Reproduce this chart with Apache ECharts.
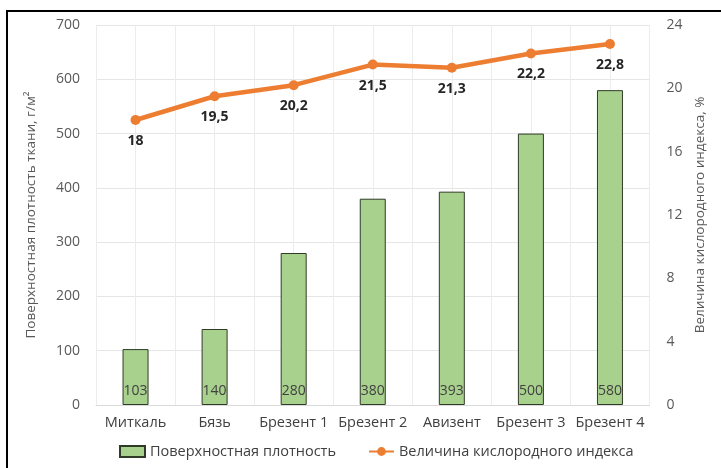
<!DOCTYPE html>
<html>
<head>
<meta charset="utf-8">
<title>Поверхностная плотность и кислородный индекс</title>
<script src="https://cdn.jsdelivr.net/npm/echarts@6/dist/echarts.min.js"></script>
<style>
  html, body { margin: 0; padding: 0; background: #ffffff; }
  #chart { width: 721px; height: 468px; }
</style>
</head>
<body>
<div id="chart"></div>
<script>
// Ткани
const categories = ['Миткаль', 'Бязь', 'Брезент 1', 'Брезент 2', 'Авизент', 'Брезент 3', 'Брезент 4'];
// Поверхностная плотность, г/м²
const density = [103, 140, 280, 380, 393, 500, 580];
// Кислородный индекс, %
const oxygenIndex = [18, 19.5, 20.2, 21.5, 21.3, 22.2, 22.8];

const FONT = '"Open Sans", "Noto Sans", sans-serif';
const chart = echarts.init(document.getElementById('chart'), null, { renderer: 'canvas' });

chart.setOption({
  backgroundColor: '#ffffff',
  animation: false,
  textStyle: { fontFamily: FONT },
  graphic: [{
    type: 'rect',
    z: 100,
    shape: { x: 7, y: 11, width: 730, height: 470 },
    style: { fill: 'none', stroke: '#000000', lineWidth: 2 }
  }],
  grid: { left: 96, right: 71.5, top: 25, bottom: 63, containLabel: false },
  legend: {
    bottom: 4,
    left: 114,
    itemGap: 32,
    itemWidth: 25,
    itemHeight: 11,
    textStyle: { fontFamily: FONT, fontSize: 14.5, color: '#404040' },
    data: [
      { name: 'Поверхностная плотность', icon: 'rect' },
      { name: 'Величина кислородного индекса' }
    ]
  },
  xAxis: [{
    type: 'category',
    data: categories,
    boundaryGap: true,
    axisLine: { show: true, lineStyle: { color: '#d9d9d9', width: 1 } },
    axisTick: { show: false },
    splitLine: { show: false },
    axisLabel: { interval: 0, fontFamily: FONT, fontSize: 14.5, color: '#404040', margin: 10 }
  }, {
    // half-category vertical grid
    type: 'value',
    min: 0,
    max: 14,
    interval: 1,
    position: 'bottom',
    axisLine: { show: false },
    axisTick: { show: false },
    axisLabel: { show: false },
    splitLine: { show: true, lineStyle: { color: '#ececec', width: 1 } }
  }],
  yAxis: [{
    type: 'value',
    min: 0,
    max: 700,
    interval: 100,
    name: 'Поверхностная плотность ткани, г/м²',
    nameLocation: 'middle',
    nameGap: 58,
    nameTextStyle: { fontFamily: FONT, fontSize: 13.5, color: '#595959' },
    axisLine: { show: false },
    axisTick: { show: false },
    axisLabel: { fontFamily: FONT, fontSize: 14, color: '#595959', margin: 16 },
    splitLine: { show: true, lineStyle: { color: '#e6e6e6', width: 1 } }
  }, {
    type: 'value',
    min: 0,
    max: 24,
    interval: 4,
    position: 'right',
    name: 'Величина кислородного индекса, %',
    nameLocation: 'middle',
    nameGap: 44,
    nameRotate: 90,
    nameTextStyle: { fontFamily: FONT, fontSize: 13.5, color: '#595959' },
    axisLine: { show: false },
    axisTick: { show: false },
    axisLabel: { fontFamily: FONT, fontSize: 14, color: '#595959', margin: 17 },
    splitLine: { show: false }
  }],
  series: [{
    name: 'Поверхностная плотность',
    type: 'bar',
    xAxisIndex: 0,
    yAxisIndex: 0,
    data: density,
    barWidth: 26,
    itemStyle: { color: '#a9d18e', borderColor: '#2f3b27', borderWidth: 1 },
    label: {
      show: true,
      position: 'insideBottom',
      distance: 7,
      fontFamily: FONT,
      fontSize: 14,
      color: '#404040'
    }
  }, {
    name: 'Величина кислородного индекса',
    type: 'line',
    xAxisIndex: 0,
    yAxisIndex: 1,
    data: oxygenIndex,
    symbol: 'circle',
    symbolSize: 10,
    lineStyle: { color: '#ed7d31', width: 4.5 },
    itemStyle: { color: '#ed7d31' },
    label: {
      show: true,
      position: 'bottom',
      distance: 9,
      fontFamily: FONT,
      fontSize: 14,
      fontWeight: 'bold',
      color: '#262626',
      formatter: p => String(p.value).replace('.', ',')
    },
    z: 3
  }]
});
</script>
</body>
</html>
